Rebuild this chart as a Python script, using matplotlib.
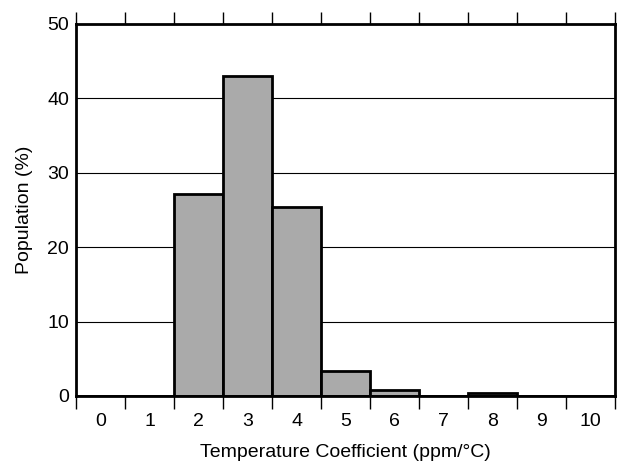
import numpy as np
import matplotlib.pyplot as plt

plt.rcParams['font.family'] = ['Liberation Sans', 'DejaVu Sans']

coeff = [0, 1, 2, 3, 4, 5, 6, 7, 8, 9, 10]
population = [0, 0, 27.1, 43.0, 25.4, 3.3, 0.8, 0, 0.4, 0, 0]

fig = plt.figure(figsize=(6.31, 4.62), dpi=100)
ax = fig.add_axes([76 / 631, 1 - 396 / 462, (615 - 76) / 631, (396 - 24) / 462])

ax.bar(coeff, population, width=1.0, color='#aaaaaa', edgecolor='black', linewidth=2, zorder=3)

ax.set_xlim(-0.5, 10.5)
ax.set_ylim(0, 50)
ax.set_yticks([0, 10, 20, 30, 40, 50])
ax.yaxis.grid(True, color='black', linewidth=0.8, zorder=0)
ax.set_axisbelow(True)
ax.tick_params(axis='y', length=0, labelsize=14, pad=5)

edges = np.arange(-0.5, 11.0, 1.0)
ax.set_xticks(edges)
ax.set_xticklabels([])
ax.set_xticks(coeff, minor=True)
ax.set_xticklabels([str(c) for c in coeff], minor=True)
ax.tick_params(axis='x', which='major', direction='out', length=9, width=1,
               top=True, bottom=True)
ax.tick_params(axis='x', which='minor', length=0, labelsize=14, pad=12)

for s in ax.spines.values():
    s.set_linewidth(2)
    s.set_zorder(4)

ax.set_xlabel('Temperature Coefficient (ppm/°C)', fontsize=14, labelpad=10)
ax.set_ylabel('Population (%)', fontsize=14, labelpad=10)

fig.savefig('out.png', dpi=100)
